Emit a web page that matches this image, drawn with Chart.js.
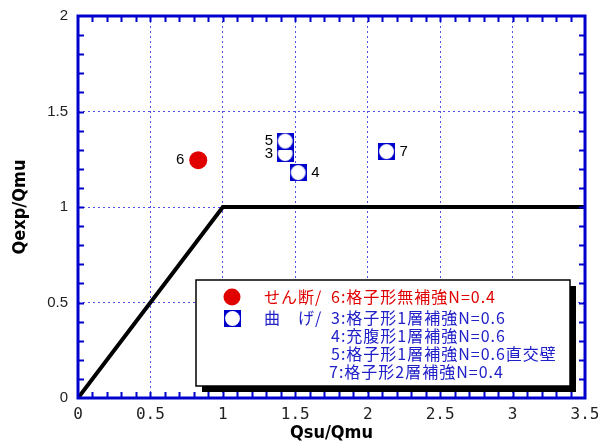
<!DOCTYPE html>
<html>
<head>
<meta charset="utf-8">
<title>Qsu/Qmu - Qexp/Qmu</title>
<script src="https://cdn.jsdelivr.net/npm/chart.js"></script>
<style>
  body { margin: 0; background: #fff; }
  #wrap { width: 600px; height: 448px; }
</style>
</head>
<body>
<div id="wrap"><canvas id="chart" width="600" height="448"></canvas></div>
<script>
// --- data ---
var envX = [0, 1, 3.5];
var envY = [0, 1, 1];

var shearX = [0.83];
var shearY = [1.245];
var shearNames = ['6'];

var flexX = [1.43, 1.52, 1.43, 2.13];
var flexY = [1.28, 1.18, 1.345, 1.29];
var flexNames = ['3', '4', '5', '7'];

var xTickLabels = ['0', '0.5', '1', '1.5', '2', '2.5', '3', '3.5'];
var yTickLabels = ['0', '0.5', '1', '1.5', '2'];

var legendRows = [
    { head: 'せん断/', text: '6:格子形無補強N=0.4', color: '#e00000' },
    { head: '曲　げ/', text: '3:格子形1層補強N=0.6', color: '#2020c8' },
    { head: '', text: '4:充腹形1層補強N=0.6', color: '#2020c8' },
    { head: '', text: '5:格子形1層補強N=0.6直交壁', color: '#2020c8' },
    { head: '', text: '7:格子形2層補強N=0.4', color: '#2020c8' }
];

var BLUE = '#0000cc';

function toPts(xs, ys) {
    return xs.map(function (x, i) { return { x: x, y: ys[i] }; });
}

// square marker with a white hole
var sq = document.createElement('canvas');
sq.width = 17; sq.height = 17;
var sctx = sq.getContext('2d');
sctx.fillStyle = BLUE;
sctx.fillRect(0, 0, 17, 17);
sctx.fillStyle = '#fff';
sctx.beginPath();
sctx.arc(8.5, 8.5, 7.4, 0, Math.PI * 2);
sctx.fill();

var decor = {
    id: 'decor',
    afterDatasetsDraw: function (chart) {
        var ctx = chart.ctx, a = chart.chartArea;
        var xs = chart.scales.x, ys = chart.scales.y;
        ctx.save();
        // inward minor ticks on all four sides
        ctx.strokeStyle = BLUE;
        ctx.lineWidth = 2;
        ctx.beginPath();
        for (var i = 1; i < 35; i++) {
            var px = Math.round(xs.getPixelForValue(i / 10)) + 0.5;
            ctx.moveTo(px, a.bottom); ctx.lineTo(px, a.bottom - 6);
            ctx.moveTo(px, a.top); ctx.lineTo(px, a.top + 6);
        }
        for (var j = 1; j < 20; j++) {
            var py = Math.round(ys.getPixelForValue(j / 10)) + 0.5;
            ctx.moveTo(a.left, py); ctx.lineTo(a.left + 6, py);
            ctx.moveTo(a.right, py); ctx.lineTo(a.right - 6, py);
        }
        ctx.stroke();
        // frame
        ctx.lineWidth = 3;
        ctx.strokeRect(a.left, a.top, a.right - a.left, a.bottom - a.top);

        // point labels
        ctx.fillStyle = '#000';
        ctx.font = '15px "Liberation Sans", Arial, sans-serif';
        ctx.textBaseline = 'middle';
        var m1 = chart.getDatasetMeta(1);
        m1.data.forEach(function (p, k) {
            ctx.textAlign = 'right';
            ctx.fillText(shearNames[k], p.x - 14, p.y);
        });
        var m2 = chart.getDatasetMeta(2);
        m2.data.forEach(function (p, k) {
            var n = flexNames[k];
            if (n === '4' || n === '7') {
                ctx.textAlign = 'left';
                ctx.fillText(n, p.x + 13, p.y);
            } else {
                ctx.textAlign = 'right';
                ctx.fillText(n, p.x - 12, p.y);
            }
        });

        // legend box with shadow
        var bx = 196, by = 280, bw = 374, bh = 106;
        ctx.fillStyle = '#000';
        ctx.fillRect(bx + 6, by + 6, bw, bh);
        ctx.fillStyle = '#fff';
        ctx.fillRect(bx, by, bw, bh);
        ctx.strokeStyle = '#000';
        ctx.lineWidth = 1.5;
        ctx.strokeRect(bx, by, bw, bh);

        ctx.fillStyle = '#e00000';
        ctx.beginPath();
        ctx.arc(232, 297, 8.5, 0, Math.PI * 2);
        ctx.fill();
        ctx.drawImage(sq, 224, 310);

        ctx.font = '16px "Noto Sans CJK JP", sans-serif';
        ctx.letterSpacing = '1px';
        ctx.textAlign = 'left';
        var rowY = [297, 318, 336, 354, 372];
        legendRows.forEach(function (r, k) {
            ctx.fillStyle = r.color;
            if (r.head) ctx.fillText(r.head, 264, rowY[k]);
            ctx.fillText(r.text, k === 4 ? 329 : 331, rowY[k]);
        });
        ctx.restore();
    }
};

new Chart(document.getElementById('chart'), {
    type: 'scatter',
    data: {
        datasets: [{
            data: toPts(envX, envY),
            showLine: true,
            borderColor: '#000',
            borderWidth: 4,
            pointRadius: 0,
            order: 3
        }, {
            data: toPts(shearX, shearY),
            pointRadius: 9,
            pointBackgroundColor: '#e00000',
            pointBorderWidth: 0,
            order: 1
        }, {
            data: toPts(flexX, flexY),
            pointStyle: sq,
            order: 2
        }]
    },
    options: {
        responsive: false,
        animation: false,
        events: [],
        layout: { padding: { top: 16, right: 15 } },
        plugins: { legend: { display: false }, tooltip: { enabled: false } },
        scales: {
            x: {
                type: 'linear', min: 0, max: 3.5,
                afterFit: function (s) { s.height = 50; s.paddingRight = 0; s.paddingLeft = 0; },
                grid: { color: '#5050e8', lineWidth: 1, drawTicks: false },
                border: { display: false, dash: [2, 3] },
                ticks: {
                    stepSize: 0.5, padding: 7, color: '#222',
                    font: { family: '"DejaVu Sans Mono", monospace', size: 16 },
                    callback: function (v) { return xTickLabels[Math.round(v * 2)]; }
                },
                title: {
                    display: true, text: 'Qsu/Qmu', color: '#000', padding: { top: 4 },
                    font: { family: '"Liberation Sans Narrow", "DejaVu Sans Condensed", sans-serif', size: 18, weight: 'bold' }
                }
            },
            y: {
                type: 'linear', min: 0, max: 2,
                afterFit: function (s) { s.width = 78; s.paddingTop = 0; s.paddingBottom = 0; },
                grid: { color: '#5050e8', lineWidth: 1, drawTicks: false },
                border: { display: false, dash: [2, 3] },
                ticks: {
                    stepSize: 0.5, padding: 10, color: '#222',
                    font: { family: '"Liberation Sans", Arial, sans-serif', size: 15 },
                    callback: function (v) { return yTickLabels[Math.round(v * 2)]; }
                },
                title: {
                    display: true, text: 'Qexp/Qmu', color: '#000', padding: { top: 10, bottom: 0 },
                    font: { family: '"Liberation Sans Narrow", "DejaVu Sans Condensed", sans-serif', size: 18, weight: 'bold' }
                }
            }
        }
    },
    plugins: [decor]
});
</script>
</body>
</html>
